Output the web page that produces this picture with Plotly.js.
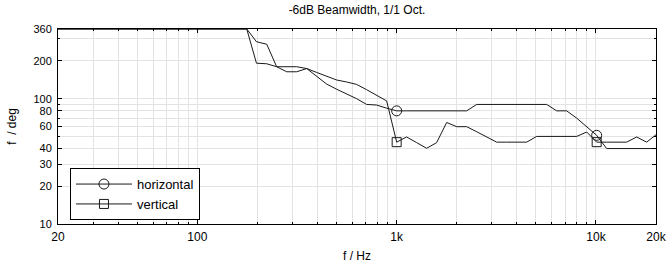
<!DOCTYPE html>
<html>
<head>
<meta charset="utf-8">
<script src="https://cdn.plot.ly/plotly-3.0.1.min.js"></script>
<style>
  html, body { margin: 0; padding: 0; background: #fff; }
  #chart { width: 668px; height: 266px; }
</style>
</head>
<body>
<div id="chart"></div>
<script>
// Frequencies (Hz), 1/6-octave grid
const freq = [20, 177, 198, 223, 250, 281, 315, 354, 397, 445, 500, 561, 630, 707, 794, 891,
  1000, 1122, 1260, 1414, 1587, 1782, 2000, 2245, 2520, 2828, 3175, 3564, 4000, 4490, 5040,
  5657, 6350, 7127, 8000, 8980, 10079, 11314, 12699, 14254, 16000, 17959, 20000];

// -6 dB beamwidth (deg)
const horizontal = [360, 360, 285, 272, 180, 180, 180, 174, 151, 131, 119, 109, 100, 90, 89, 84,
  80, 80, 80, 80, 80, 80, 80, 80, 90, 90, 90, 90, 90, 90, 90,
  90, 80, 80, 70, 60, 51, 40, 40, 40, 40, 40, 40];
const vertical = [360, 360, 192, 190, 180, 164, 164, 174, 162, 151, 141, 136, 130, 118, 106, 96,
  45, 49.5, 44.6, 40.2, 44.6, 64.6, 59.8, 59.8, 54.5, 49.7, 45, 45, 45, 45, 50,
  50, 50, 50, 50, 54.2, 45, 45, 45, 45, 49.5, 45, 51.6];

// indices of the points that carry a marker (1 kHz and 10 kHz)
const markerIdx = [16, 36];

// Axis ticks
const xTickVals = [20, 100, 1000, 10000, 20000];
const xTickText = ['20', '100', '1k', '10k', '20k'];
const xMinorVals = [30, 40, 50, 60, 70, 80, 90, 200, 300, 400, 500, 600, 700, 800, 900,
  2000, 3000, 4000, 5000, 6000, 7000, 8000, 9000];
const yTickVals = [10, 20, 30, 40, 60, 80, 100, 200, 360];
const yTickText = ['10', '20', '30', '40', '60', '80', '100', '200', '360'];
const yMinorVals = [50, 70, 90, 300];

function markerPts(arr) {
  const xs = [], ys = [];
  markerIdx.forEach((i, n) => {
    if (n > 0) { xs.push(null); ys.push(null); }
    xs.push(freq[i]); ys.push(arr[i]);
  });
  return {xs, ys};
}

const lineColor = '#1a1a1a';
const hM = markerPts(horizontal), vM = markerPts(vertical);

const traces = [
  {x: freq, y: horizontal, mode: 'lines', line: {color: lineColor, width: 1}, showlegend: false, hoverinfo: 'skip'},
  {x: freq, y: vertical, mode: 'lines', line: {color: lineColor, width: 1}, showlegend: false, hoverinfo: 'skip'},
  {x: hM.xs, y: hM.ys, mode: 'lines+markers', name: 'horizontal', connectgaps: false,
   line: {color: lineColor, width: 1},
   marker: {symbol: 'circle-open', size: 10, color: lineColor, line: {width: 1, color: lineColor}}},
  {x: vM.xs, y: vM.ys, mode: 'lines+markers', name: 'vertical', connectgaps: false,
   line: {color: lineColor, width: 1},
   marker: {symbol: 'square-open', size: 9, color: lineColor, line: {width: 1, color: lineColor}}}
];

const gridColor = '#e3e3e3';
const font = {family: '"Liberation Sans", Arial, Helvetica, sans-serif', size: 12, color: '#000'};

const layout = {
  width: 668, height: 266,
  margin: {l: 58, r: 12, t: 29, b: 42, pad: 0},
  paper_bgcolor: '#fff', plot_bgcolor: '#fff',
  font: font,
  title: {text: '-6dB Beamwidth, 1/1 Oct.', x: 0.5, xref: 'paper', y: 0.962, yref: 'container', yanchor: 'middle',
          font: {family: font.family, size: 12, color: '#000'}},
  xaxis: {
    type: 'log', range: [Math.log10(20), Math.log10(20000)],
    tickvals: xTickVals, ticktext: xTickText,
    showgrid: true, gridcolor: gridColor, gridwidth: 1,
    ticks: 'inside', ticklen: 4, tickcolor: '#000', tickwidth: 1,
    showline: true, linecolor: '#000', linewidth: 1, mirror: 'ticks',
    zeroline: false, ticklabelstandoff: 2,
    minor: {tickvals: xMinorVals, showgrid: true, gridcolor: gridColor, gridwidth: 1,
            ticks: 'inside', ticklen: 2, tickcolor: '#000'},
    title: {text: 'f / Hz', standoff: 8, font: {family: font.family, size: 12, color: '#000'}},
    tickfont: {family: font.family, size: 12, color: '#000'}
  },
  yaxis: {
    type: 'log', range: [1, Math.log10(360)],
    tickvals: yTickVals, ticktext: yTickText,
    showgrid: true, gridcolor: gridColor, gridwidth: 1,
    ticks: 'inside', ticklen: 4, tickcolor: '#000', tickwidth: 1,
    showline: true, linecolor: '#000', linewidth: 1, mirror: 'ticks',
    zeroline: false, ticklabelstandoff: 3,
    minor: {tickvals: yMinorVals, showgrid: true, gridcolor: gridColor, gridwidth: 1,
            ticks: 'inside', ticklen: 2, tickcolor: '#000'},
    title: {text: 'f\u00a0 / deg', standoff: 14, font: {family: font.family, size: 12, color: '#000'}},
    tickfont: {family: font.family, size: 11, color: '#000'}
  },
  legend: {
    x: 0.02, y: 0.02, xanchor: 'left', yanchor: 'bottom',
    bgcolor: '#fff', bordercolor: '#000', borderwidth: 1,
    font: {family: font.family, size: 13, color: '#000'},
    itemwidth: 56, tracegroupgap: 0
  },
  showlegend: true
};

Plotly.newPlot('chart', traces, layout, {displayModeBar: false, staticPlot: true});
</script>
</body>
</html>
